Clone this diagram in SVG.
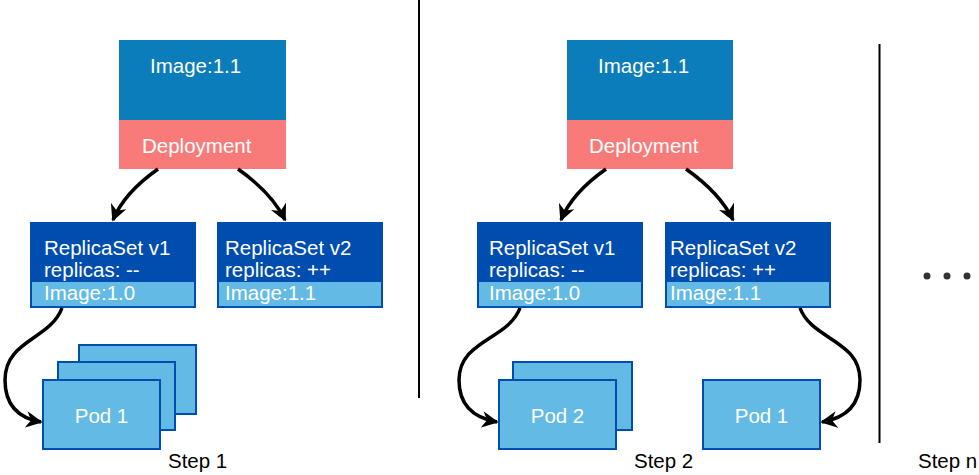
<svg xmlns="http://www.w3.org/2000/svg" width="979" height="475" viewBox="0 0 979 475">
<style>
text{font-family:"Liberation Sans",Arial,sans-serif;font-size:20.5px}
.w{fill:#fff}
.k{fill:#000}
.img{fill:#0b7dba}
.dep{fill:#f87b79}
.rs{fill:#004db0}
.strip{fill:#63bae4}
.pod{fill:#63bae4;stroke:#004db0;stroke-width:2}
.c{fill:none;stroke:#000;stroke-width:3.5}
.div{stroke:#000;stroke-width:2}
</style>
<defs>
<marker id="ah" viewBox="0 0 10 10" refX="9" refY="5" markerWidth="4.8" markerHeight="4.8" markerUnits="strokeWidth" orient="auto">
<path d="M0,0 L10,5 L0,10 L3,5 Z" fill="#000"/>
</marker>
</defs>
<rect width="979" height="475" fill="#fff"/>
<g id="dividers">
<line class="div" x1="419" y1="0" x2="419" y2="398"/>
<line class="div" x1="879.5" y1="44" x2="879.5" y2="443"/>
</g>
<g id="deployment1">
<rect class="img" x="119" y="40" width="167" height="80"/>
<rect class="dep" x="119" y="120" width="167" height="49"/>
<text class="w" x="150" y="73">Image:1.1</text>
<text class="w" x="142" y="153">Deployment</text>
</g>
<g id="deployment2">
<rect class="img" x="567" y="40" width="166" height="80"/>
<rect class="dep" x="567" y="120" width="166" height="49"/>
<text class="w" x="598" y="73">Image:1.1</text>
<text class="w" x="589" y="153">Deployment</text>
</g>
<g id="rs1v1">
<rect class="rs" x="30" y="222" width="166" height="86"/>
<rect class="strip" x="32" y="282" width="162" height="24"/>
<text class="w" x="44" y="255">ReplicaSet v1</text>
<text class="w" x="44" y="277">replicas: --</text>
<text class="w" x="44" y="300">Image:1.0</text>
</g>
<g id="rs1v2">
<rect class="rs" x="217" y="222" width="166" height="86"/>
<rect class="strip" x="219" y="282" width="162" height="24"/>
<text class="w" x="225" y="255">ReplicaSet v2</text>
<text class="w" x="225" y="277">replicas: ++</text>
<text class="w" x="225" y="300">Image:1.1</text>
</g>
<g id="rs2v1">
<rect class="rs" x="477" y="222" width="166" height="86"/>
<rect class="strip" x="479" y="282" width="162" height="24"/>
<text class="w" x="489" y="255">ReplicaSet v1</text>
<text class="w" x="489" y="277">replicas: --</text>
<text class="w" x="489" y="300">Image:1.0</text>
</g>
<g id="rs2v2">
<rect class="rs" x="665" y="222" width="166" height="86"/>
<rect class="strip" x="667" y="282" width="162" height="24"/>
<text class="w" x="670" y="255">ReplicaSet v2</text>
<text class="w" x="670" y="277">replicas: ++</text>
<text class="w" x="670" y="300">Image:1.1</text>
</g>
<g id="pods1">
<rect class="pod" x="79" y="345" width="117" height="69"/>
<rect class="pod" x="58" y="362" width="117" height="68"/>
<rect class="pod" x="43" y="380" width="117" height="69"/>
<text class="w" x="101.5" y="423" text-anchor="middle">Pod 1</text>
</g>
<g id="pods2">
<rect class="pod" x="513" y="362" width="119" height="68"/>
<rect class="pod" x="499" y="380" width="117" height="69"/>
<text class="w" x="557.5" y="423" text-anchor="middle">Pod 2</text>
</g>
<g id="pod2v2">
<rect class="pod" x="703" y="380" width="117" height="69"/>
<text class="w" x="761.5" y="423" text-anchor="middle">Pod 1</text>
</g>
<g id="more">
<circle cx="927" cy="276" r="3.5" fill="#333"/>
<circle cx="947" cy="276" r="3.5" fill="#333"/>
<circle cx="967" cy="276" r="3.5" fill="#333"/>
</g>
<g id="labels">
<text class="k" x="168" y="468">Step 1</text>
<text class="k" x="634" y="468">Step 2</text>
<text class="k" x="918" y="468">Step n</text>
</g>
<g id="connectors">
<path class="c" marker-end="url(#ah)" d="M158,169 Q124,193 113,220"/>
<path class="c" marker-end="url(#ah)" d="M238,169 Q272,193 285,220"/>
<path class="c" marker-end="url(#ah)" d="M606,169 Q572,193 561,220"/>
<path class="c" marker-end="url(#ah)" d="M686,169 Q720,193 733,220"/>
<path class="c" marker-end="url(#ah)" d="M62,308 C50,340 5,340 5,380 C5,405 18,418 41,422"/>
<path class="c" marker-end="url(#ah)" d="M520,308 C508,340 459,340 459,380 C459,405 474,418 497,422"/>
<path class="c" marker-end="url(#ah)" d="M800,308 C812,340 860,340 860,380 C860,405 846,418 822,422"/>
</g>
</svg>
